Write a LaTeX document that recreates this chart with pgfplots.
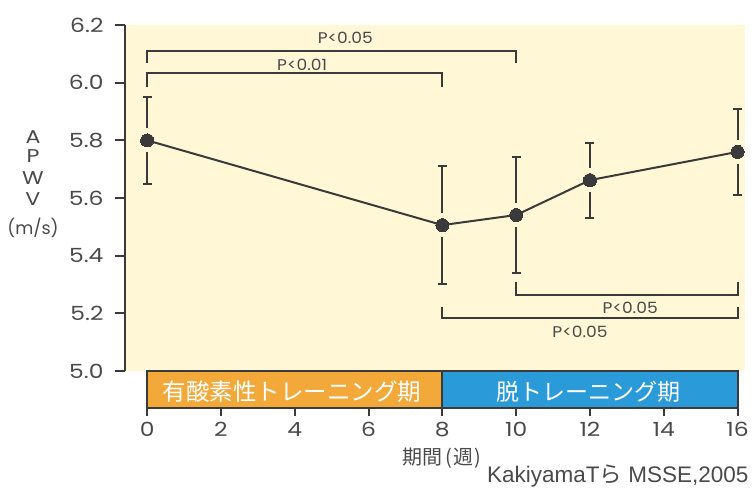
\documentclass[border=0pt]{standalone}
\usepackage{fontspec}
\setmainfont{Poppins}
\newfontfamily\tickfont[FakeStretch=1.2]{Poppins}
\newfontfamily\pfont[FakeStretch=1.1]{Poppins}
\newfontfamily\arialfont{Liberation Sans}
\newfontfamily\cjk{Noto Sans CJK JP}
\usepackage{pgfplots}
\pgfplotsset{compat=1.18}
\definecolor{bgy}{HTML}{FFF7D6}
\definecolor{orng}{HTML}{F2A93A}
\definecolor{blu}{HTML}{2A9BD8}
\definecolor{ink}{HTML}{3A3A3A}
\definecolor{txt}{HTML}{4A4A4A}

\begin{document}
\begin{tikzpicture}
\path[use as bounding box] (0,0) rectangle (753pt,499pt);

% main panel
\begin{axis}[
  at={(125pt,128pt)}, anchor=south west,
  scale only axis, width=619.6pt, height=346pt,
  xmin=-0.6, xmax=16.19, ymin=5.0, ymax=6.2,
  axis background/.style={fill=bgy},
  axis x line=none, axis y line*=left,
  y axis line style={ink, line width=2pt},
  ytick={5.0,5.2,5.4,5.6,5.8,6.0,6.2},
  ytick pos=left, tick align=outside, major tick length=10pt,
  tick style={ink, line width=2pt},
  /pgf/number format/assume math mode=true,
  yticklabel style={/pgf/number format/fixed, /pgf/number format/fixed zerofill,
    /pgf/number format/precision=1, font=\tickfont\fontsize{19.5}{20}\selectfont,
    text=txt, xshift=-8pt},
  unbounded coords=jump,
]
% SD bars, split around each point: mean 5.80/5.506/5.541/5.662/5.760
\addplot[ink, line width=2pt, mark=none] coordinates {
  (0,5.842) (0,5.950) (0,nan) (0,5.758) (0,5.650) (0,nan)
  (8,5.548) (8,5.712) (8,nan) (8,5.464) (8,5.300) (8,nan)
  (10,5.583) (10,5.742) (10,nan) (10,5.499) (10,5.340) (10,nan)
  (12,5.704) (12,5.792) (12,nan) (12,5.620) (12,5.532) (12,nan)
  (16,5.802) (16,5.910) (16,nan) (16,5.718) (16,5.610)
  };
% caps
\addplot[only marks, mark=-, mark size=4.5pt, mark options={draw=ink, line width=2pt}] coordinates {
  (0,5.950) (0,5.650) (8,5.712) (8,5.300) (10,5.742) (10,5.340)
  (12,5.792) (12,5.532) (16,5.910) (16,5.610)
  };
% mean line
\addplot[ink, line width=2pt, mark=*, mark size=6.5pt, mark options={fill=ink, draw=ink, line width=0pt}]
  coordinates {(0,5.80) (8,5.506) (10,5.541) (12,5.662) (16,5.760)};

% significance brackets
\addplot[ink, line width=2pt, mark=none] coordinates {(0,6.068) (0,6.11) (10,6.11) (10,6.068)};
\addplot[ink, line width=2pt, mark=none] coordinates {(0,5.985) (0,6.033) (8,6.033) (8,5.985)};
\addplot[ink, line width=2pt, mark=none] coordinates {(10,5.31) (10,5.263) (16,5.263) (16,5.31)};
\addplot[ink, line width=2pt, mark=none] coordinates {(8,5.221) (8,5.183) (16,5.183) (16,5.221)};
\node[font=\pfont\fontsize{15.5}{16}\selectfont, text=txt] at (axis cs:5.37,6.155) {P<0.05};
\node[font=\pfont\fontsize{15.5}{16}\selectfont, text=txt] at (axis cs:4.2,6.061) {P<0.01};
\node[font=\pfont\fontsize{15.5}{16}\selectfont, text=txt] at (axis cs:13.09,5.218) {P<0.05};
\node[font=\pfont\fontsize{15.5}{16}\selectfont, text=txt] at (axis cs:11.73,5.135) {P<0.05};
\end{axis}

% phase bars and x axis
\begin{axis}[
  at={(125pt,91pt)}, anchor=south west,
  scale only axis, width=619.6pt, height=37pt,
  xmin=-0.6, xmax=16.19, ymin=0, ymax=1,
  axis line style={draw=none}, ytick=\empty,
  xtick={0,2,4,6,8,10,12,14,16}, xtick pos=lower,
  tick align=outside, major tick length=8pt,
  tick style={ink, line width=2pt},
  /pgf/number format/assume math mode=true,
  xticklabel style={font=\tickfont\fontsize{19.5}{20}\selectfont, text=txt, yshift=-3pt},
  clip=false,
]
\addplot[fill=orng, draw=ink, line width=2pt, mark=none] coordinates {(0,0) (0,1) (8,1) (8,0)} -- cycle;
\addplot[fill=blu, draw=ink, line width=2pt, mark=none] coordinates {(8,0) (8,1) (16,1) (16,0)} -- cycle;
\node[text=white, font=\cjk\fontsize{23.5}{24}\selectfont] at (axis cs:3.93,0.45) {有酸素性トレーニング期};
\node[text=white, font=\cjk\fontsize{23}{24}\selectfont] at (axis cs:11.95,0.45) {脱トレーニング期};
\end{axis}

% y label, stacked
\begin{scope}[every node/.style={text=txt, font=\tickfont\fontsize{18.5}{19}\selectfont}]
\node at (33pt,362pt) {A};
\node at (33pt,343pt) {P};
\node at (33pt,321pt) {W};
\node at (33pt,300pt) {V};
\node[font=\fontsize{17.5}{18}\selectfont] at (33pt,271pt) {(m/s)};
\end{scope}

\node[text=txt, font=\cjk\fontsize{20}{20}\selectfont] at (442pt,41pt) {期間\hspace{3pt}(\hspace{1pt}週\hspace{1pt})};
\node[text=txt, font=\arialfont\fontsize{22.5}{23}\selectfont, anchor=east] at (752pt,23pt) {KakiyamaT{\cjk ら} MSSE,2005};
\end{tikzpicture}
\end{document}
